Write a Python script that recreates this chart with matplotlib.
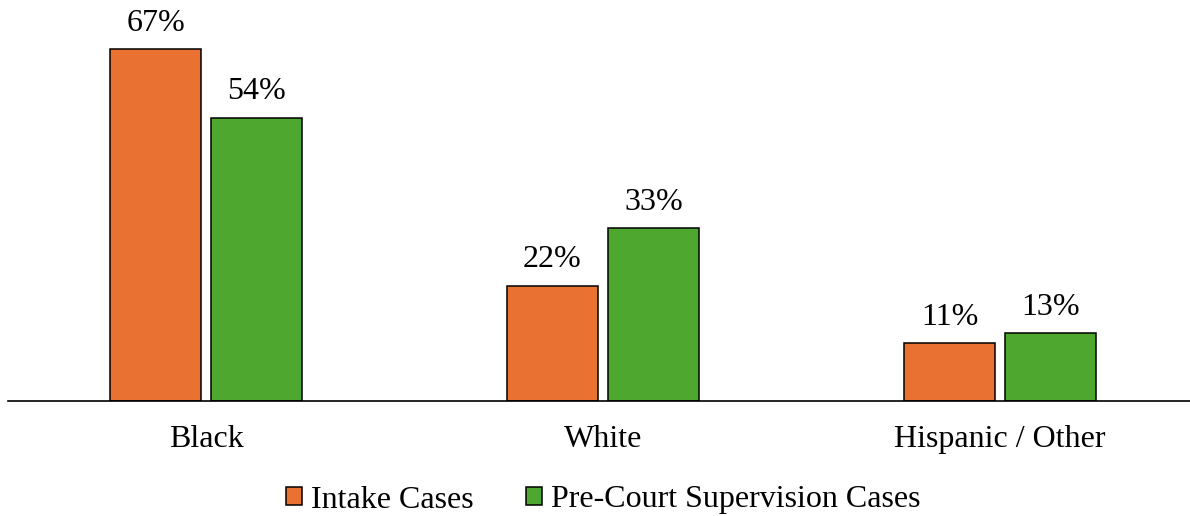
import numpy as np
import matplotlib.pyplot as plt

# data
categories = ['Black', 'White', 'Hispanic / Other']
intake = [67, 22, 11]
pre_court = [54, 33, 13]
series_names = ['Intake Cases', 'Pre-Court Supervision Cases']

plt.rcParams['font.family'] = ['Liberation Serif', 'DejaVu Serif']

fig = plt.figure(figsize=(11.9, 5.16), dpi=100)
ax = fig.add_axes([8 / 1190, 115 / 516, 1 - 8 / 1190, 401 / 516])

x = np.arange(len(categories))
w = 0.229
off = 0.127
b1 = ax.bar(x - off, intake, w, color='#E97132', edgecolor='black', linewidth=1.1,
            label=series_names[0])
b2 = ax.bar(x + off, pre_court, w, color='#4EA72E', edgecolor='black', linewidth=1.1,
            label=series_names[1])

for bars, vals in [(b1, intake), (b2, pre_court)]:
    for rect, v in zip(bars, vals):
        ax.annotate(f'{v}%', (rect.get_x() + rect.get_width() / 2, v),
                    xytext=(0, 8), textcoords='offset points',
                    ha='center', va='bottom', fontsize=23)

ax.set_xlim(-0.4987, 2.479)
ax.set_ylim(0, 76.4)
ax.set_xticks(x)
ax.set_xticklabels(categories, fontsize=23)
ax.tick_params(axis='x', length=0, pad=17)
ax.set_yticks([])
for s in ['top', 'right', 'left']:
    ax.spines[s].set_visible(False)
ax.spines['bottom'].set_linewidth(1.2)

fig.legend(loc='center', bbox_to_anchor=(0.507, 16 / 516), ncol=2, frameon=False,
           fontsize=23, handlelength=0.5, handleheight=0.5, handletextpad=0.28,
           columnspacing=1.65)

fig.savefig('out.png', dpi=100)
